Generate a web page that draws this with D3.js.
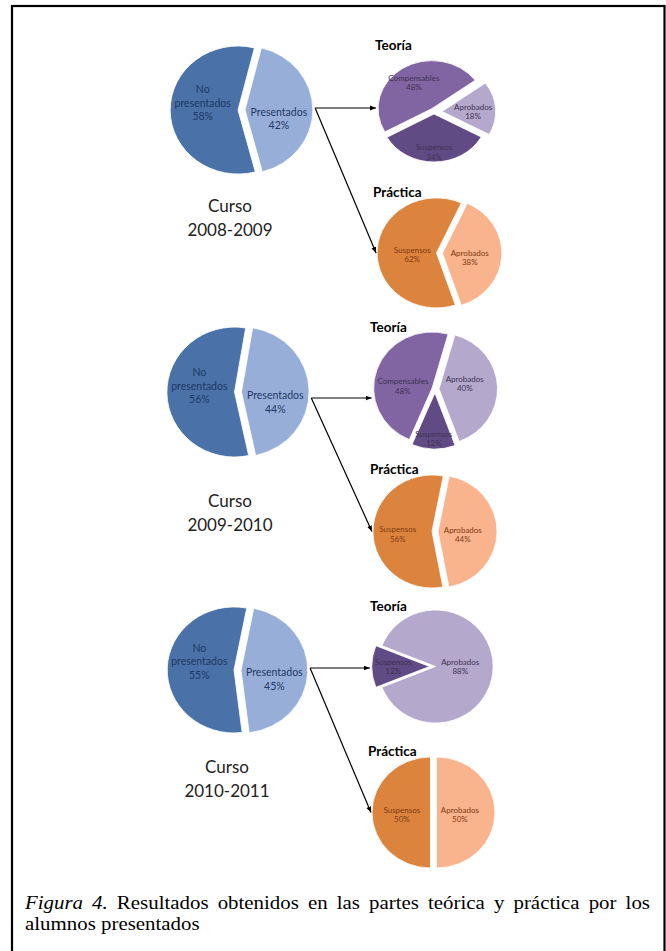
<!DOCTYPE html>
<html>
<head>
<meta charset="utf-8">
<script src="https://cdn.jsdelivr.net/npm/d3@7"></script>
<style>
  body { margin: 0; background: #fff; }
  svg { display: block; }
</style>
</head>
<body>
<svg id="chart" width="666" height="951"></svg>
<script>
// ---- data ----
const courses = ["2008-2009", "2009-2010", "2010-2011"];

const mainCats = ["No presentados", "Presentados"];
const mainVals = [[58, 42], [56, 44], [55, 45]];

const teoriaCats = [
  ["Compensables", "Aprobados", "Suspensos"],
  ["Compensables", "Aprobados", "Suspensos"],
  ["Aprobados", "Suspensos"]
];
const teoriaVals = [[48, 18, 34], [48, 40, 12], [88, 12]];

const practicaCats = ["Suspensos", "Aprobados"];
const practicaVals = [[62, 38], [56, 44], [50, 50]];

const teoriaTitle = "Teoría";
const practicaTitle = "Práctica";
const courseWord = "Curso";

const captionItalic = "Figura 4.";
const captionLine1 = "Resultados obtenidos en las partes teórica y práctica por los";
const captionLine2 = "alumnos presentados";

// ---- layout (positions, radii, start angles in degrees, slice explosion) ----
const mainLayout = [
  { cx: 240, cy: 110, r: 64, sx: 1.06, start: -194.8, explode: [2, 5], lab: [[0.52, -7], [0.5, 9]], arrowY: 108, courseX: 230, courseY: 212 },
  { cx: 236.5, cy: 392, r: 65, sx: 1.04, start: -192.1, explode: [2, 5], lab: [[0.52, -7], [0.5, 11]], arrowY: 398, courseX: 230, courseY: 507 },
  { cx: 236, cy: 670, r: 63, sx: 1.06, start: -187, explode: [2, 5], lab: [[0.52, -7], [0.5, 8]], arrowY: 668, courseX: 227, courseY: 773 }
];
const teoriaLayout = [
  { cx: 434, cy: 112, r: 48, sx: 1.12, start: -119, explode: [4, 8, 2], lab: [[0.62, -1], [0.58, 2], [0.8, 0]], tx: 375, ty: 50 },
  { cx: 435, cy: 389, r: 56, sx: 1.045, start: -157, explode: [3, 4, 4], lab: [[0.53, 8], [0.44, -4], [0.82, 0]], tx: 370, ty: 332 },
  { cx: 435.5, cy: 666.5, r: 56.5, sx: 1.02, start: -68.4, explode: [0, 6], lab: [[0.43, 0], [0.63, 0]], tx: 370, ty: 611 }
];
const practicaLayout = [
  { cx: 438.5, cy: 253, r: 55, sx: 1.08, start: -198.5, explode: [2, 4], lab: [[0.41, 3], [0.46, 3]], tx: 373, ty: 197 },
  { cx: 434, cy: 531.5, r: 56.5, sx: 1.045, start: -190.6, explode: [2, 4], lab: [[0.58, 3], [0.42, 3]], tx: 370, ty: 474 },
  { cx: 432.5, cy: 812.5, r: 55.5, sx: 1.054, start: -180, explode: [2, 4], lab: [[0.49, 2], [0.4, 2]], tx: 368, ty: 756 }
];

const mainColor = d3.scaleOrdinal().domain(mainCats).range(["#4a72a8", "#97afd8"]);
const teoriaColor = d3.scaleOrdinal().domain(["Compensables", "Aprobados", "Suspensos"]).range(["#8165a3", "#b4a8cd", "#614b85"]);
const practicaColor = d3.scaleOrdinal().domain(practicaCats).range(["#dc843e", "#f9b38d"]);

const svg = d3.select("#chart");
const rad = d => d * Math.PI / 180;

function drawPie(cats, vals, lay, color, opts) {
  const pie = d3.pie().sort(null).value(d => d.v)
    .startAngle(rad(lay.start)).endAngle(rad(lay.start) + 2 * Math.PI);
  const arcs = pie(cats.map((c, i) => ({ c: c, v: vals[i] })));
  const arc = d3.arc().innerRadius(0).outerRadius(lay.r);
  const g = svg.append("g").attr("transform", `translate(${lay.cx},${lay.cy})`);
  let minX = Infinity;

  arcs.forEach((a, i) => {
    const mid = (a.startAngle + a.endAngle) / 2;
    const ex = lay.explode[i] * Math.sin(mid), ey = -lay.explode[i] * Math.cos(mid);
    g.append("path")
      .attr("d", arc(a))
      .attr("transform", `translate(${ex},${ey}) scale(${lay.sx},1)`)
      .attr("fill", color(a.data.c))
      .attr("stroke", "#fff")
      .attr("stroke-width", 0.8);

    for (let t = a.startAngle; t <= a.endAngle; t += 0.02) {
      minX = Math.min(minX, lay.cx + ex + lay.sx * lay.r * Math.sin(t));
    }

    const frac = lay.lab[i][0], dy = lay.lab[i][1];
    const lx = ex + lay.sx * frac * lay.r * Math.sin(mid);
    const ly = ey - frac * lay.r * Math.cos(mid) + dy;
    const lines = opts.lines(a.data.c).concat([a.data.v + "%"]);
    const txt = g.append("text")
      .attr("text-anchor", "middle")
      .attr("font-family", "Lato, 'Open Sans', sans-serif")
      .attr("font-size", opts.size)
      .attr("fill", opts.textColor);
    lines.forEach((l, k) => {
      txt.append("tspan")
        .attr("x", lx)
        .attr("y", ly - (lines.length - 1) * opts.lineH / 2 + k * opts.lineH + opts.size * 0.35)
        .text(l);
    });
  });
  return { left: minX };
}

// arrowhead
svg.append("defs").append("marker")
  .attr("id", "arrow")
  .attr("viewBox", "0 0 10 10")
  .attr("refX", 10).attr("refY", 5)
  .attr("markerWidth", 5).attr("markerHeight", 5)
  .attr("orient", "auto")
  .append("path").attr("d", "M0,1 L10,5 L0,9 Z").attr("fill", "#000");

courses.forEach((course, i) => {
  const ml = mainLayout[i];
  drawPie(mainCats, mainVals[i], ml, mainColor, {
    lines: c => c === "No presentados" ? ["No", "presentados"] : [c],
    size: 10.5, lineH: 13.5, textColor: "#1f3864"
  });

  const tl = teoriaLayout[i];
  const teo = drawPie(teoriaCats[i], teoriaVals[i], tl, teoriaColor, {
    lines: c => [c], size: 8, lineH: 9.5, textColor: "#3f3151"
  });

  const pl = practicaLayout[i];
  const pra = drawPie(practicaCats, practicaVals[i], pl, practicaColor, {
    lines: c => [c], size: 8, lineH: 9.5, textColor: "#7f3a10"
  });

  // titles
  [[teoriaTitle, tl], [practicaTitle, pl]].forEach(([t, l]) => {
    svg.append("text")
      .attr("x", l.tx).attr("y", l.ty)
      .attr("font-family", "Lato, 'Open Sans', sans-serif")
      .attr("font-weight", "bold")
      .attr("font-size", 13.5)
      .attr("fill", "#000")
      .text(t);
  });

  // course label
  const ct = svg.append("text")
    .attr("text-anchor", "middle")
    .attr("font-family", "Lato, 'Open Sans', sans-serif")
    .attr("font-size", 17)
    .attr("fill", "#222");
  [courseWord, course].forEach((l, k) => {
    ct.append("tspan").attr("x", ml.courseX).attr("y", ml.courseY + k * 23.5).text(l);
  });

  // arrows
  const x0 = ml.cx + (ml.r + ml.explode[1]) * ml.sx + 2;
  svg.append("line")
    .attr("x1", x0).attr("y1", ml.arrowY)
    .attr("x2", teo.left - 2).attr("y2", ml.arrowY)
    .attr("stroke", "#000").attr("stroke-width", 1.2)
    .attr("marker-end", "url(#arrow)");
  svg.append("line")
    .attr("x1", x0).attr("y1", ml.arrowY)
    .attr("x2", pra.left - 1).attr("y2", pl.cy)
    .attr("stroke", "#000").attr("stroke-width", 1.2)
    .attr("marker-end", "url(#arrow)");
});

// frame
svg.append("rect")
  .attr("x", 12).attr("y", 6)
  .attr("width", 652.5).attr("height", 960)
  .attr("fill", "none")
  .attr("stroke", "#000")
  .attr("stroke-width", 2.2);

// caption (first line justified)
const capScale = 1.13, capLeft = 25, capRight = 650, capSize = 18.5;
const cap = svg.append("g")
  .attr("transform", `translate(${capLeft},0) scale(${capScale},1)`)
  .attr("font-family", "'Liberation Serif', 'Times New Roman', serif")
  .attr("font-size", capSize)
  .attr("fill", "#000");

const words = captionItalic.split(" ").map(w => ({ w: w, it: true }))
  .concat(captionLine1.split(" ").map(w => ({ w: w, it: false })));
const nodes = words.map(d => cap.append("text")
  .attr("y", 909)
  .attr("font-style", d.it ? "italic" : "normal")
  .text(d.w));
const widths = nodes.map(n => n.node().getComputedTextLength());
const avail = (capRight - capLeft) / capScale;
const gap = (avail - d3.sum(widths)) / (words.length - 1);
let cx = 0;
nodes.forEach((n, k) => { n.attr("x", cx); cx += widths[k] + gap; });

cap.append("text").attr("x", 0).attr("y", 930.5).text(captionLine2);
</script>
</body>
</html>
